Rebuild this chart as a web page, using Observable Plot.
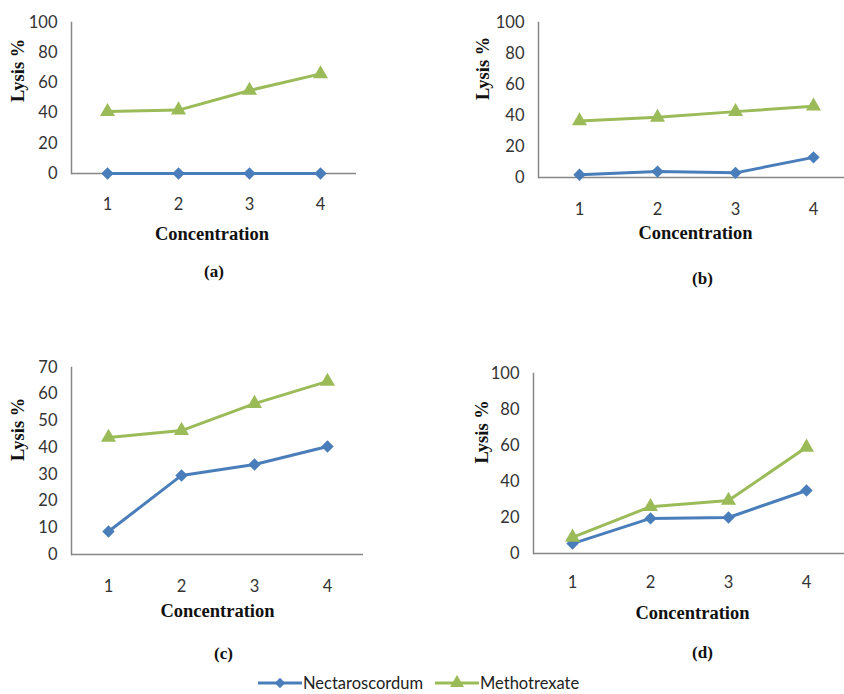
<!DOCTYPE html>
<html>
<head>
<meta charset="utf-8">
<script src="https://cdn.jsdelivr.net/npm/d3@7"></script>
<script src="https://cdn.jsdelivr.net/npm/@observablehq/plot@0.6"></script>
<style>
  html, body { margin: 0; padding: 0; background: #fff; }
  #root { position: relative; width: 844px; height: 694px; overflow: hidden; background: #fff; }
  .panel { position: absolute; }
  #legend { position: absolute; left: 258px; top: 673px; display: flex; align-items: center;
            font-family: Lato, sans-serif; font-size: 16.5px; color: #222; }
  #legend .item { display: flex; align-items: center; margin-right: 12px; }
</style>
</head>
<body>
<div id="root"></div>
<script>
// ---- data ----
const concentrations = [1, 2, 3, 4];
const seriesNames = ["Nectaroscordum", "Methotrexate"];
const seriesColors = ["#4A7EBB", "#9BBB59"];
const panelTags = ["(a)", "(b)", "(c)", "(d)"];

const nectA = [0, 0, 0, 0];
const methA = [41, 42, 55, 66];
const nectB = [1.8, 3.8, 3, 13];
const methB = [36.5, 38.8, 42.5, 46];
const nectC = [8.6, 29.6, 33.7, 40.4];
const methC = [43.8, 46.4, 56.5, 64.8];
const nectD = [5.5, 19.5, 20, 35];
const methD = [9, 26, 29.5, 59];

const yTicks100 = [0, 20, 40, 60, 80, 100];
const yTicks70 = [0, 10, 20, 30, 40, 50, 60, 70];

const rows = (vals) => concentrations.map((c, i) => ({c, v: vals[i]}));
const axisGray = "#868686";
const tickFont = "Lato, sans-serif";
const titleFont = "'Liberation Serif', 'Times New Roman', serif";

function panel(o) {
  const marks = [
    Plot.ruleY([0], {stroke: axisGray, strokeWidth: 1.5}),
    Plot.frame({anchor: "left", stroke: axisGray, strokeWidth: 1.5}),
    Plot.axisY({ticks: o.yTicks, tickSize: 0, tickPadding: 14, label: null,
      fontSize: 16.5, fontFamily: tickFont, fill: "#333"}),
    Plot.axisX({tickSize: 0, tickPadding: o.tickPadX, label: null,
      fontSize: 16.5, fontFamily: tickFont, fill: "#333"}),
  ];
  [o.nect, o.meth].forEach((vals, k) => {
    marks.push(Plot.line(rows(vals), {x: "c", y: "v", stroke: seriesColors[k], strokeWidth: 3}));
    marks.push(Plot.dot(rows(vals), {x: "c", y: "v", fill: seriesColors[k],
      symbol: k === 0 ? "diamond2" : "triangle", r: k === 0 ? 5.6 : 5.6}));
  });
  marks.push(
    Plot.text(["Lysis %"], {frameAnchor: "left", rotate: -90, dx: -o.lysisDx, dy: o.lysisDy || 0,
      fontFamily: titleFont, fontWeight: "bold", fontSize: 18.5, fill: "#111"}),
    Plot.text(["Concentration"], {frameAnchor: "bottom", dy: o.concDy, dx: o.concDx,
      fontFamily: titleFont, fontWeight: "bold", fontSize: 18.5, fill: "#111"}),
    Plot.text([o.tag], {frameAnchor: "bottom", dy: o.tagDy, dx: o.tagDx,
      fontFamily: titleFont, fontWeight: "bold", fontSize: 17, fill: "#111"})
  );
  const chart = Plot.plot({
    width: o.width, height: o.height,
    marginLeft: o.marginLeft, marginRight: o.marginRight,
    marginTop: o.marginTop, marginBottom: o.marginBottom,
    style: {background: "transparent", overflow: "visible"},
    x: Object.assign({type: "point", domain: concentrations, padding: 0.5}, o.xRange ? {range: o.xRange} : {}),
    y: {domain: o.yDomain},
    marks
  });
  chart.classList.add("panel");
  chart.style.left = o.left + "px";
  chart.style.top = o.top + "px";
  document.getElementById("root").appendChild(chart);
}

panel({left: 0, top: 0, width: 420, height: 290, marginLeft: 71, marginRight: 64, marginTop: 22, marginBottom: 117,
  nect: nectA, meth: methA, yDomain: [0, 100], yTicks: yTicks100, tickPadX: 25,
  lysisDx: 53, lysisDy: 4, concDy: 66, concDx: -2, tag: panelTags[0], tagDy: 103, tagDx: 0});
panel({left: 420, top: 0, width: 424, height: 290, marginLeft: 118, marginRight: 0, marginTop: 22, marginBottom: 113,
  xRange: [120, 432],
  nect: nectB, meth: methB, yDomain: [0, 100], yTicks: yTicks100, tickPadX: 26,
  lysisDx: 55, concDy: 61, concDx: 4, tag: panelTags[1], tagDy: 106, tagDx: 11});
panel({left: 0, top: 340, width: 420, height: 330, marginLeft: 71, marginRight: 57, marginTop: 27, marginBottom: 116,
  nect: nectC, meth: methC, yDomain: [0, 70], yTicks: yTicks70, tickPadX: 26,
  lysisDx: 53, concDy: 62, concDx: 0, tag: panelTags[2], tagDy: 104, tagDx: 6});
panel({left: 420, top: 340, width: 424, height: 330, marginLeft: 113, marginRight: 0, marginTop: 33, marginBottom: 117,
  xRange: [113, 425],
  nect: nectD, meth: methD, yDomain: [0, 100], yTicks: yTicks100, tickPadX: 23,
  lysisDx: 51, concDy: 65, concDx: 3.5, tag: panelTags[3], tagDy: 104, tagDx: 13.5});

// ---- legend ----
const legend = document.createElement("div");
legend.id = "legend";
const ns = "http://www.w3.org/2000/svg";
seriesNames.forEach((name, k) => {
  const item = document.createElement("div");
  item.className = "item";
  const svg = document.createElementNS(ns, "svg");
  svg.setAttribute("width", 44); svg.setAttribute("height", 16);
  const ln = document.createElementNS(ns, "line");
  ln.setAttribute("x1", 0); ln.setAttribute("x2", 44); ln.setAttribute("y1", 8); ln.setAttribute("y2", 8);
  ln.setAttribute("stroke", seriesColors[k]); ln.setAttribute("stroke-width", 3);
  svg.appendChild(ln);
  const p = document.createElementNS(ns, "path");
  p.setAttribute("d", d3.symbol(k === 0 ? d3.symbolDiamond2 : d3.symbolTriangle, k === 0 ? 70 : 85)());
  p.setAttribute("transform", "translate(22,8)");
  p.setAttribute("fill", seriesColors[k]);
  svg.appendChild(p);
  const t = document.createElement("span");
  t.textContent = name;
  t.style.marginLeft = "1px";
  item.appendChild(svg); item.appendChild(t);
  legend.appendChild(item);
});
document.getElementById("root").appendChild(legend);
</script>
</body>
</html>
